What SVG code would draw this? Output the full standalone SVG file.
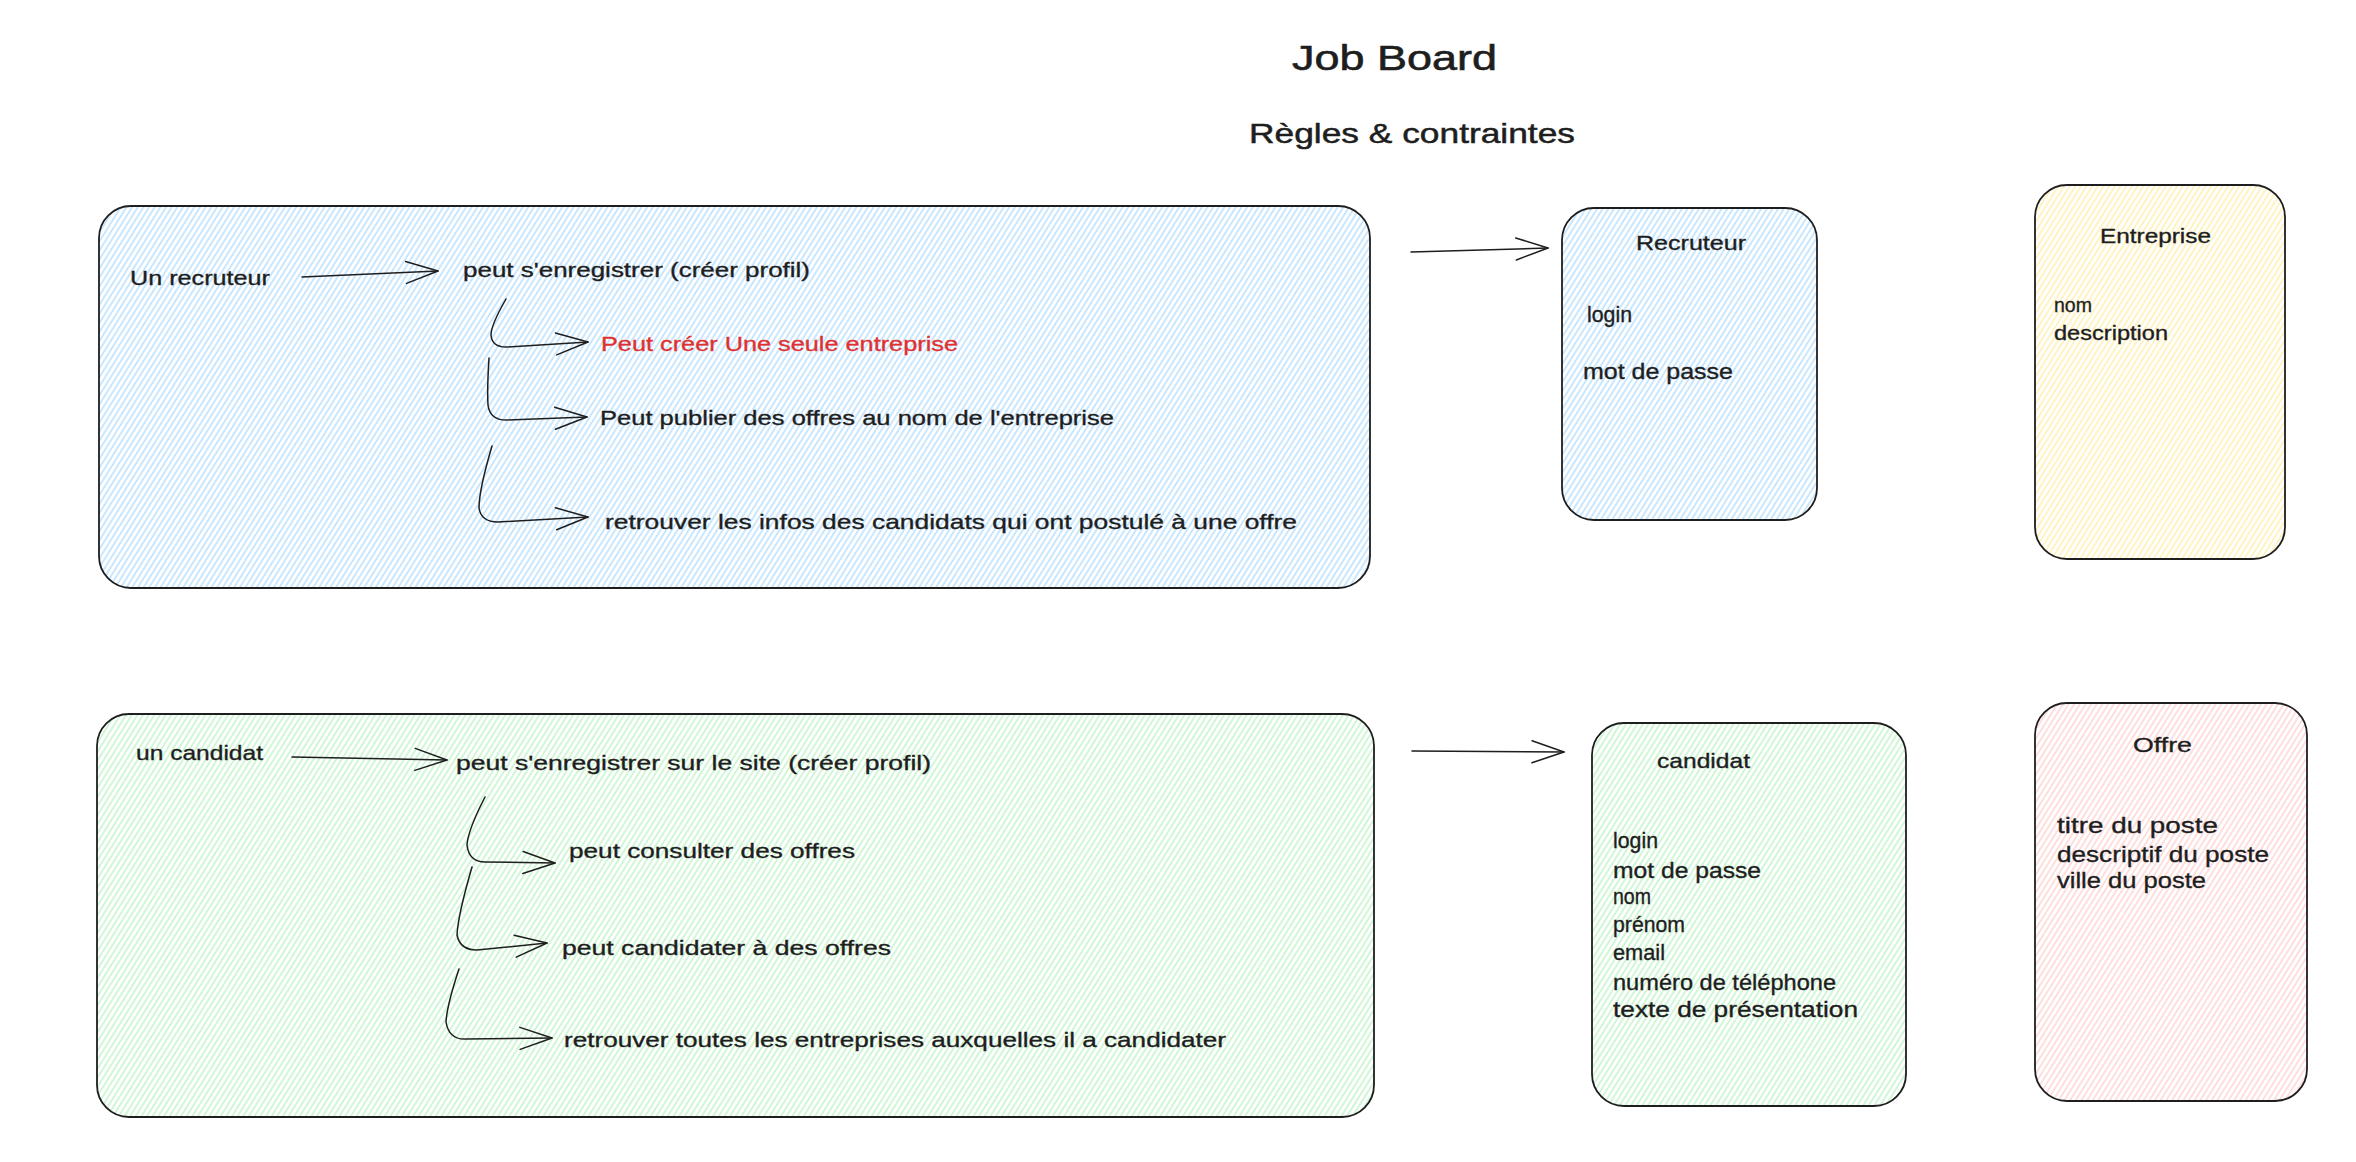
<svg xmlns="http://www.w3.org/2000/svg" width="2356" height="1162" viewBox="0 0 2356 1162">
<style>
  text { font-family: "Liberation Sans", Arial, sans-serif; fill: #1e1e1e; stroke: #1e1e1e; stroke-width: 0.35; }
  .title { font-size: 35px; stroke-width: 0.6; }
  .sub { font-size: 28px; stroke-width: 0.5; }
  .t { font-size: 21px; }
  .attr { font-size: 22px; }
  .red { fill: #e03131; stroke: #e03131; }
  .box { stroke: #1e1e1e; stroke-width: 1.8; }
  .conn { fill: none; stroke: #1e1e1e; stroke-width: 1.5; stroke-linecap: round; stroke-linejoin: round; marker-end: url(#ah); }
</style>
<defs>
  <marker id="ah" markerUnits="userSpaceOnUse" markerWidth="40" markerHeight="30" viewBox="0 0 40 30" refX="36" refY="15" orient="auto">
    <path d="M4,4 L36,15 L4,26" fill="none" stroke="#1e1e1e" stroke-width="1.5" stroke-linecap="round" stroke-linejoin="round"/>
  </marker>
  <pattern id="hBlue" patternUnits="userSpaceOnUse" width="4.8" height="10" patternTransform="rotate(32)">
    <line x1="1" y1="0" x2="1" y2="10" stroke="#a5d8ff" stroke-width="1.2"/>
  </pattern>
  <pattern id="hGreen" patternUnits="userSpaceOnUse" width="4.8" height="10" patternTransform="rotate(32)">
    <line x1="1" y1="0" x2="1" y2="10" stroke="#b2f2bb" stroke-width="1.2"/>
  </pattern>
  <pattern id="hYellow" patternUnits="userSpaceOnUse" width="4.8" height="10" patternTransform="rotate(32)">
    <line x1="1" y1="0" x2="1" y2="10" stroke="#ffec99" stroke-width="1.2"/>
  </pattern>
  <pattern id="hRed" patternUnits="userSpaceOnUse" width="4.8" height="10" patternTransform="rotate(32)">
    <line x1="1" y1="0" x2="1" y2="10" stroke="#ffc9c9" stroke-width="1.2"/>
  </pattern>
</defs>
<rect width="2356" height="1162" fill="#ffffff"/>

<g id="title">
  <text class="title" x="1292" y="70" textLength="205" lengthAdjust="spacingAndGlyphs">Job Board</text>
  <text class="sub" x="1249" y="143" textLength="326" lengthAdjust="spacingAndGlyphs">Règles &amp; contraintes</text>
</g>

<g id="recruteur-rules">
  <rect class="box" x="99" y="206" width="1271" height="382" rx="32" fill="url(#hBlue)"/>
  <g id="un-recruteur"><text class="t" x="130" y="285" textLength="140" lengthAdjust="spacingAndGlyphs">Un recruteur</text></g>
  <g id="r-enregistrer"><text class="t" x="463" y="277" textLength="347" lengthAdjust="spacingAndGlyphs">peut s'enregistrer (créer profil)</text></g>
  <g id="r-entreprise"><text class="t red" x="601" y="351" textLength="357" lengthAdjust="spacingAndGlyphs">Peut créer Une seule entreprise</text></g>
  <g id="r-publier"><text class="t" x="600" y="425" textLength="514" lengthAdjust="spacingAndGlyphs">Peut publier des offres au nom de l'entreprise</text></g>
  <g id="r-retrouver"><text class="t" x="605" y="529" textLength="692" lengthAdjust="spacingAndGlyphs">retrouver les infos des candidats qui ont postulé à une offre</text></g>
</g>

<g id="candidat-rules">
  <rect class="box" x="97" y="714" width="1277" height="403" rx="32" fill="url(#hGreen)"/>
  <g id="un-candidat"><text class="t" x="136" y="760" textLength="127" lengthAdjust="spacingAndGlyphs">un candidat</text></g>
  <g id="c-enregistrer"><text class="t" x="456" y="770" textLength="475" lengthAdjust="spacingAndGlyphs">peut s'enregistrer sur le site (créer profil)</text></g>
  <g id="c-consulter"><text class="t" x="569" y="858" textLength="286" lengthAdjust="spacingAndGlyphs">peut consulter des offres</text></g>
  <g id="c-candidater"><text class="t" x="562" y="955" textLength="329" lengthAdjust="spacingAndGlyphs">peut candidater à des offres</text></g>
  <g id="c-retrouver"><text class="t" x="564" y="1047" textLength="662" lengthAdjust="spacingAndGlyphs">retrouver toutes les entreprises auxquelles il a candidater</text></g>
</g>

<g id="recruteur">
  <rect class="box" x="1562" y="208" width="255" height="312" rx="32" fill="url(#hBlue)"/>
  <text class="t" x="1636" y="250" textLength="110" lengthAdjust="spacingAndGlyphs">Recruteur</text>
  <text class="attr" x="1587" y="322" textLength="45" lengthAdjust="spacingAndGlyphs">login</text>
  <text class="attr" x="1583" y="379" textLength="150" lengthAdjust="spacingAndGlyphs">mot de passe</text>
</g>

<g id="entreprise">
  <rect class="box" x="2035" y="185" width="250" height="374" rx="32" fill="url(#hYellow)"/>
  <text class="t" x="2100" y="243" textLength="111" lengthAdjust="spacingAndGlyphs">Entreprise</text>
  <text class="t" x="2054" y="312" textLength="38" lengthAdjust="spacingAndGlyphs">nom</text>
  <text class="t" x="2054" y="340" textLength="114" lengthAdjust="spacingAndGlyphs">description</text>
</g>

<g id="candidat">
  <rect class="box" x="1592" y="723" width="314" height="383" rx="32" fill="url(#hGreen)"/>
  <text class="t" x="1657" y="768" textLength="93" lengthAdjust="spacingAndGlyphs">candidat</text>
  <text class="attr" x="1613" y="848" textLength="45" lengthAdjust="spacingAndGlyphs">login</text>
  <text class="attr" x="1613" y="878" textLength="148" lengthAdjust="spacingAndGlyphs">mot de passe</text>
  <text class="attr" x="1613" y="904" textLength="38" lengthAdjust="spacingAndGlyphs">nom</text>
  <text class="attr" x="1613" y="932" textLength="72" lengthAdjust="spacingAndGlyphs">prénom</text>
  <text class="attr" x="1613" y="960" textLength="52" lengthAdjust="spacingAndGlyphs">email</text>
  <text class="attr" x="1613" y="990" textLength="223" lengthAdjust="spacingAndGlyphs">numéro de téléphone</text>
  <text class="attr" x="1613" y="1017" textLength="245" lengthAdjust="spacingAndGlyphs">texte de présentation</text>
</g>

<g id="offre">
  <rect class="box" x="2035" y="703" width="272" height="398" rx="32" fill="url(#hRed)"/>
  <text class="t" x="2133" y="752" textLength="59" lengthAdjust="spacingAndGlyphs">Offre</text>
  <text class="attr" x="2057" y="833" textLength="161" lengthAdjust="spacingAndGlyphs">titre du poste</text>
  <text class="attr" x="2057" y="862" textLength="212" lengthAdjust="spacingAndGlyphs">descriptif du poste</text>
  <text class="attr" x="2057" y="888" textLength="149" lengthAdjust="spacingAndGlyphs">ville du poste</text>
</g>

<g id="connectors">
  <path class="conn" d="M302,277 L438,271"/>
  <path class="conn" d="M506,299 Q491,325 491,335 Q492,347 506,347 L588,342"/>
  <path class="conn" d="M489,358 Q487,390 488,405 Q490,420 506,420 L587,417"/>
  <path class="conn" d="M492,446 Q479,490 479,508 Q481,522 498,522 L588,517"/>
  <path class="conn" d="M292,757 L447,760"/>
  <path class="conn" d="M485,797 Q468,830 467,845 Q469,862 485,862 L555,863"/>
  <path class="conn" d="M472,867 Q458,915 457,935 Q460,950 477,950 L547,943"/>
  <path class="conn" d="M459,969 Q447,1005 446,1022 Q449,1040 466,1039 L552,1038"/>
  <path class="conn" d="M1411,252 L1548,248"/>
  <path class="conn" d="M1412,751 L1564,752"/>
</g>
</svg>
